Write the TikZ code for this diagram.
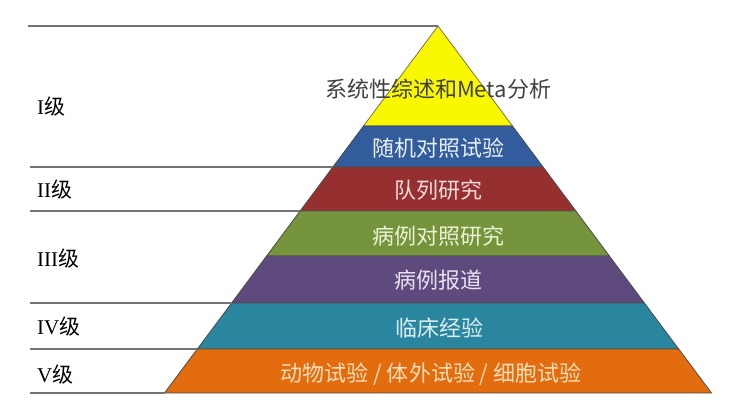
\documentclass[tikz,border=0pt]{standalone}
\usepackage{fontspec}
\setmainfont{Liberation Serif}
\newfontfamily\cjk{Noto Sans CJK SC}
\usepackage{xcolor}
\usepackage{tikz}

\definecolor{lvyellow}{RGB}{250,248,0}
\definecolor{lvblue}{RGB}{50,92,155}
\definecolor{lvred}{RGB}{150,48,48}
\definecolor{lvgreen}{RGB}{118,148,60}
\definecolor{lvpurple}{RGB}{94,74,124}
\definecolor{lvteal}{RGB}{42,134,158}
\definecolor{lvorange}{RGB}{226,108,14}
\definecolor{txblue}{RGB}{232,238,246}
\definecolor{txred}{RGB}{244,220,218}
\definecolor{txgreen}{RGB}{236,242,214}
\definecolor{txpurple}{RGB}{232,226,240}
\definecolor{txteal}{RGB}{220,238,244}
\definecolor{txorange}{RGB}{252,222,184}

\begin{document}
\begin{tikzpicture}[x=1pt,y=-1pt,
  band/.style={draw=black!70,line width=0.8pt,line join=round},
  rule/.style={draw=black!55,line width=1.3pt},
  level/.style={anchor=west,inner sep=0pt,font=\fontsize{21}{21}\selectfont},
  btext/.style={inner sep=0pt,font=\cjk\fontsize{22}{22}\selectfont}]
  \useasboundingbox (0,0) rectangle (753,401);
  % pyramid corners
  \coordinate (apex) at (438,26);
  \coordinate (l1) at (363.5,126);  \coordinate (r1) at (512.5,126);
  \coordinate (l2) at (332.9,167);  \coordinate (r2) at (543.1,167);
  \coordinate (l3) at (300.1,211);  \coordinate (r3) at (575.9,211);
  \coordinate (l4) at (266.6,256);  \coordinate (r4) at (609.4,256);
  \coordinate (l5) at (231.6,303);  \coordinate (r5) at (644.4,303);
  \coordinate (l6) at (197.3,349);  \coordinate (r6) at (678.7,349);
  \coordinate (l7) at (164.5,393);  \coordinate (r7) at (711.5,393);
  % bands
  \filldraw[band,fill=lvyellow,draw=black!60!yellow] (apex) -- (r1) -- (l1) -- cycle;
  \filldraw[band,fill=lvblue] (l1) -- (r1) -- (r2) -- (l2) -- cycle;
  \filldraw[band,fill=lvred] (l2) -- (r2) -- (r3) -- (l3) -- cycle;
  \filldraw[band,fill=lvgreen] (l3) -- (r3) -- (r4) -- (l4) -- cycle;
  \filldraw[band,fill=lvpurple] (l4) -- (r4) -- (r5) -- (l5) -- cycle;
  \filldraw[band,fill=lvteal] (l5) -- (r5) -- (r6) -- (l6) -- cycle;
  \filldraw[band,fill=lvorange] (l6) -- (r6) -- (r7) -- (l7) -- cycle;
  % level rules
  \coordinate (t0) at (28,26);
  \coordinate (t1) at (30,167);
  \coordinate (t2) at (30,211);
  \coordinate (t3) at (30,303);
  \coordinate (t4) at (30,349);
  \coordinate (t5) at (30,393);
  \draw[rule] (t0) -- (apex);
  \draw[rule] (t1) -- (l2);
  \draw[rule] (t2) -- (l3);
  \draw[rule] (t3) -- (l5);
  \draw[rule] (t4) -- (l6);
  \draw[rule] (t5) -- (l7);
  % level labels
  \node[level] (lvI) at (37,107) {I{\cjk 级}};
  \node[level] (lvII) at (37,190) {II{\cjk 级}};
  \node[level] (lvIII) at (37,259) {III{\cjk 级}};
  \node[level] (lvIV) at (37,327) {IV{\cjk 级}};
  \node[level] (lvV) at (37,375) {V{\cjk 级}};
  % band texts
  \node[btext,text=black!75] (meta) at (438,89) {系统性综述和Meta分析};
  \node[btext,text=txblue] (rct) at (438,148) {随机对照试验};
  \node[btext,text=txred] (cohort) at (438,190) {队列研究};
  \node[btext,text=txgreen] (casectl) at (438,236) {病例对照研究};
  \node[btext,text=txpurple] (report) at (438,280) {病例报道};
  \node[btext,text=txteal] (clinic) at (439,328) {临床经验};
  \node[btext,text=txorange] (exper) at (431,374) {动物试验 / 体外试验 / 细胞试验};
\end{tikzpicture}
\end{document}
